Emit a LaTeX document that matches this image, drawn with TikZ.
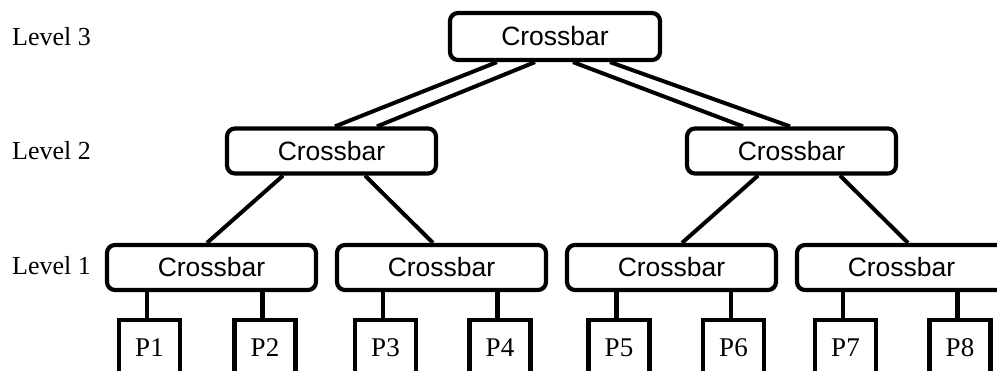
\documentclass[tikz,border=0pt]{standalone}
\usepackage{fontspec}
\setmainfont{Liberation Serif}
\newfontfamily\xbarfont{Liberation Sans}
\begin{document}
\begin{tikzpicture}[x=1pt,y=-1pt,
  xbar/.style={draw=black, line width=4.2pt, rounded corners=8pt, fill=white,
    minimum width=209pt, minimum height=45pt, inner sep=0pt,
    font=\xbarfont\fontsize{26.5}{30}\selectfont},
  pbox/.style={draw=black, line width=4.2pt, fill=white,
    minimum width=61pt, minimum height=56pt, inner sep=0pt,
    font=\fontsize{27}{30}\selectfont},
  lvl/.style={anchor=base west, inner sep=0pt, font=\fontsize{26}{30}\selectfont},
  wire/.style={draw=black, line width=4pt}]
\useasboundingbox (0,0) rectangle (997,371);
\clip (0,0) rectangle (997,371);

\node[lvl] (lv3) at (12,46) {Level 3};
\node[lvl] (lv2) at (12,160) {Level 2};
\node[lvl] (lv1) at (12,274.5) {Level 1};

\node[xbar, minimum width=210pt, minimum height=47pt] (top) at (555,36.5) {Crossbar};
\node[xbar] (L2a) at (331.5,151) {Crossbar};
\node[xbar] (L2b) at (791.5,151) {Crossbar};
\node[xbar] (L1a) at (211.5,267.5) {Crossbar};
\node[xbar] (L1b) at (441.5,267.5) {Crossbar};
\node[xbar] (L1c) at (671.5,267.5) {Crossbar};
\node[xbar] (L1d) at (901.5,267.5) {Crossbar};

\node[pbox] (P1) at (149.5,348) {P1};
\node[pbox] (P2) at (265,348) {P2};
\node[pbox] (P3) at (385.5,348) {P3};
\node[pbox] (P4) at (500,348) {P4};
\node[pbox] (P5) at (619,348) {P5};
\node[pbox] (P6) at (733.5,348) {P6};
\node[pbox] (P7) at (845.5,348) {P7};
\node[pbox] (P8) at (960,348) {P8};

% level 3 -> level 2 (double links)
\draw[wire] ([xshift=-58pt]top.south) -- ([xshift=3.5pt]L2a.north);
\draw[wire] ([xshift=-20pt]top.south) -- ([xshift=45.5pt]L2a.north);
\draw[wire] ([xshift=18pt]top.south) -- ([xshift=-48.5pt]L2b.north);
\draw[wire] ([xshift=55pt]top.south) -- ([xshift=-1.5pt]L2b.north);

% level 2 -> level 1
\draw[wire] ([xshift=-48.5pt]L2a.south) -- ([xshift=-4.5pt]L1a.north);
\draw[wire] ([xshift=33.5pt]L2a.south) -- ([xshift=-8.5pt]L1b.north);
\draw[wire] ([xshift=-33.5pt]L2b.south) -- ([xshift=10.5pt]L1c.north);
\draw[wire] ([xshift=48.5pt]L2b.south) -- ([xshift=6.5pt]L1d.north);

% level 1 -> processors
\foreach \p/\c in {P1/L1a,P2/L1a,P3/L1b,P4/L1b,P5/L1c,P6/L1c,P7/L1d,P8/L1d}{
  \draw[wire, line width=4.2pt] ([xshift=-2.5pt]\p.north) -- ([xshift=-2.5pt]\p.north |- \c.south);
}
\end{tikzpicture}
\end{document}
